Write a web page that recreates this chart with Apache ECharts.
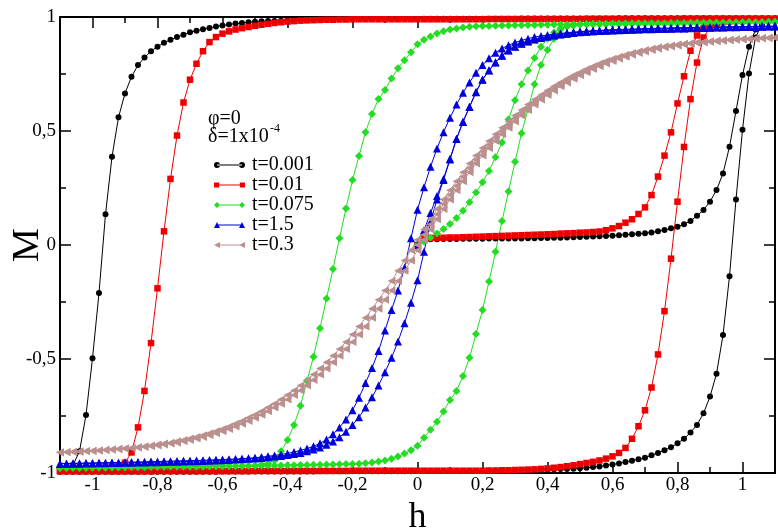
<!DOCTYPE html>
<html>
<head>
<meta charset="utf-8">
<title>Hysteresis loops M(h)</title>
<script src="https://cdn.jsdelivr.net/npm/echarts@6/dist/echarts.min.js"></script>
<style>
  html, body { margin: 0; padding: 0; background: #fff; }
  #chart { width: 778px; height: 528px; }
</style>
</head>
<body>
<div id="chart"></div>
<script>
// Field grid shared by the descending and ascending branches (h from -1.1 to 1.1)
const hGrid = [
  -1.1, -1.08, -1.06, -1.04, -1.02, -1, -0.98, -0.96, -0.94, -0.92,
  -0.9, -0.88, -0.86, -0.84, -0.82, -0.8, -0.78, -0.76, -0.74, -0.72,
  -0.7, -0.68, -0.66, -0.64, -0.62, -0.6, -0.58, -0.56, -0.54, -0.52,
  -0.5, -0.48, -0.46, -0.44, -0.42, -0.4, -0.38, -0.36, -0.34, -0.32,
  -0.3, -0.28, -0.26, -0.24, -0.22, -0.2, -0.18, -0.16, -0.14, -0.12,
  -0.1, -0.08, -0.06, -0.04, -0.02, 0, 0.02, 0.04, 0.06, 0.08,
  0.1, 0.12, 0.14, 0.16, 0.18, 0.2, 0.22, 0.24, 0.26, 0.28,
  0.3, 0.32, 0.34, 0.36, 0.38, 0.4, 0.42, 0.44, 0.46, 0.48,
  0.5, 0.52, 0.54, 0.56, 0.58, 0.6, 0.62, 0.64, 0.66, 0.68,
  0.7, 0.72, 0.74, 0.76, 0.78, 0.8, 0.82, 0.84, 0.86, 0.88,
  0.9, 0.92, 0.94, 0.96, 0.98, 1, 1.02, 1.04, 1.06, 1.08,
  1.1
];
// Initial magnetisation curve runs from h = 0 to h = 1.1
const hVirgin = hGrid.slice(55);

// Axis ticks and labels
const xMajor = [-1, -0.8, -0.6, -0.4, -0.2, 0, 0.2, 0.4, 0.6, 0.8, 1];
const xMinor = [-0.9, -0.7, -0.5, -0.3, -0.1, 0.1, 0.3, 0.5, 0.7, 0.9];
const yMajor = [-1, -0.5, 0, 0.5, 1];
const yMinor = [-0.75, -0.25, 0.25, 0.75];

// ---- t = 0.001 ----
const blackVirgin = [
  0, 0.024, 0.025, 0.025, 0.026, 0.026, 0.026, 0.027, 0.027, 0.027,
  0.027, 0.028, 0.028, 0.028, 0.029, 0.029, 0.029, 0.030, 0.030, 0.031,
  0.031, 0.032, 0.032, 0.033, 0.034, 0.035, 0.036, 0.037, 0.038, 0.039,
  0.041, 0.043, 0.045, 0.047, 0.049, 0.051, 0.055, 0.060, 0.066, 0.073,
  0.080, 0.091, 0.105, 0.128, 0.154, 0.190, 0.241, 0.314, 0.431, 0.588,
  0.746, 0.870, 0.945, 0.975, 0.987, 0.992
];
const blackDown = [
  -0.990, -0.985, -0.965, -0.905, -0.746, -0.497, -0.210, 0.135, 0.387, 0.560,
  0.665, 0.738, 0.789, 0.822, 0.850, 0.870, 0.887, 0.900, 0.912, 0.922,
  0.933, 0.940, 0.946, 0.952, 0.958, 0.963, 0.967, 0.971, 0.974, 0.977,
  0.979, 0.981, 0.982, 0.983, 0.984, 0.985, 0.986, 0.987, 0.987, 0.988,
  0.988, 0.989, 0.989, 0.990, 0.990, 0.990, 0.991, 0.991, 0.991, 0.991,
  0.991, 0.991, 0.991, 0.991, 0.991, 0.991, 0.992, 0.992, 0.992, 0.992,
  0.992, 0.992, 0.992, 0.992, 0.992, 0.992, 0.992, 0.992, 0.992, 0.992,
  0.992, 0.993, 0.993, 0.993, 0.993, 0.993, 0.993, 0.993, 0.993, 0.993,
  0.993, 0.993, 0.993, 0.993, 0.993, 0.993, 0.994, 0.994, 0.994, 0.994,
  0.994, 0.994, 0.994, 0.994, 0.994, 0.994, 0.994, 0.994, 0.994, 0.994,
  0.994, 0.995, 0.995, 0.995, 0.995, 0.995, 0.995, 0.995, 0.995, 0.995,
  0.995
];
const blackUp = [
  -0.995, -0.995, -0.995, -0.995, -0.995, -0.995, -0.995, -0.995, -0.995, -0.995,
  -0.994, -0.994, -0.994, -0.994, -0.994, -0.994, -0.994, -0.994, -0.994, -0.994,
  -0.994, -0.994, -0.994, -0.994, -0.994, -0.993, -0.993, -0.993, -0.993, -0.993,
  -0.993, -0.993, -0.993, -0.993, -0.993, -0.993, -0.993, -0.993, -0.993, -0.993,
  -0.992, -0.992, -0.992, -0.992, -0.992, -0.992, -0.992, -0.992, -0.992, -0.992,
  -0.992, -0.992, -0.992, -0.992, -0.992, -0.991, -0.991, -0.991, -0.991, -0.991,
  -0.991, -0.991, -0.991, -0.991, -0.991, -0.990, -0.990, -0.990, -0.989, -0.989,
  -0.988, -0.988, -0.987, -0.987, -0.986, -0.985, -0.984, -0.983, -0.982, -0.981,
  -0.979, -0.977, -0.974, -0.971, -0.967, -0.963, -0.958, -0.952, -0.946, -0.940,
  -0.933, -0.922, -0.912, -0.900, -0.887, -0.870, -0.850, -0.822, -0.789, -0.738,
  -0.665, -0.565, -0.395, -0.137, 0.200, 0.505, 0.752, 0.910, 0.968, 0.985,
  0.990
];

// ---- t = 0.01 ----
const redVirgin = [
  0, 0.030, 0.031, 0.031, 0.032, 0.033, 0.033, 0.034, 0.035, 0.036,
  0.037, 0.038, 0.039, 0.040, 0.041, 0.042, 0.043, 0.044, 0.045, 0.046,
  0.047, 0.048, 0.050, 0.051, 0.052, 0.054, 0.055, 0.057, 0.059, 0.065,
  0.073, 0.083, 0.098, 0.113, 0.136, 0.165, 0.219, 0.300, 0.392, 0.494,
  0.621, 0.740, 0.852, 0.919, 0.950, 0.965, 0.973, 0.978, 0.982, 0.985,
  0.987, 0.988, 0.989, 0.989, 0.990, 0.990
];
const redDown = [
  -0.990, -0.989, -0.988, -0.988, -0.987, -0.987, -0.985, -0.982, -0.978, -0.970,
  -0.955, -0.910, -0.800, -0.640, -0.430, -0.190, 0.060, 0.290, 0.480, 0.625,
  0.725, 0.795, 0.850, 0.890, 0.912, 0.927, 0.937, 0.945, 0.951, 0.956,
  0.961, 0.966, 0.970, 0.974, 0.977, 0.980, 0.982, 0.984, 0.985, 0.986,
  0.987, 0.988, 0.988, 0.989, 0.989, 0.990, 0.990, 0.990, 0.990, 0.990,
  0.990, 0.990, 0.990, 0.990, 0.990, 0.990, 0.990, 0.990, 0.990, 0.990,
  0.990, 0.990, 0.990, 0.990, 0.990, 0.990, 0.991, 0.991, 0.991, 0.991,
  0.991, 0.991, 0.991, 0.991, 0.991, 0.991, 0.991, 0.991, 0.991, 0.991,
  0.991, 0.992, 0.992, 0.992, 0.992, 0.992, 0.992, 0.992, 0.992, 0.992,
  0.992, 0.992, 0.992, 0.992, 0.992, 0.992, 0.993, 0.993, 0.993, 0.993,
  0.993, 0.993, 0.993, 0.993, 0.993, 0.993, 0.993, 0.993, 0.993, 0.993,
  0.993
];
const redUp = [
  -0.993, -0.993, -0.993, -0.993, -0.993, -0.993, -0.993, -0.993, -0.993, -0.993,
  -0.993, -0.993, -0.993, -0.993, -0.993, -0.992, -0.992, -0.992, -0.992, -0.992,
  -0.992, -0.992, -0.992, -0.992, -0.992, -0.992, -0.992, -0.992, -0.992, -0.992,
  -0.991, -0.991, -0.991, -0.991, -0.991, -0.991, -0.991, -0.991, -0.991, -0.991,
  -0.991, -0.991, -0.991, -0.991, -0.991, -0.990, -0.990, -0.990, -0.990, -0.990,
  -0.990, -0.990, -0.990, -0.990, -0.990, -0.990, -0.990, -0.990, -0.990, -0.990,
  -0.990, -0.990, -0.990, -0.990, -0.990, -0.990, -0.989, -0.989, -0.988, -0.988,
  -0.987, -0.986, -0.985, -0.984, -0.982, -0.980, -0.977, -0.974, -0.970, -0.966,
  -0.961, -0.956, -0.951, -0.945, -0.937, -0.927, -0.912, -0.890, -0.850, -0.795,
  -0.725, -0.625, -0.480, -0.290, -0.060, 0.190, 0.430, 0.640, 0.800, 0.910,
  0.955, 0.970, 0.978, 0.982, 0.985, 0.987, 0.987, 0.988, 0.988, 0.989,
  0.990
];

// ---- t = 0.075 ----
const greenVirgin = [
  0, 0.015, 0.032, 0.050, 0.070, 0.092, 0.118, 0.150, 0.188, 0.230,
  0.275, 0.325, 0.385, 0.450, 0.550, 0.635, 0.705, 0.765, 0.820, 0.870,
  0.905, 0.932, 0.950, 0.959, 0.964, 0.967, 0.968, 0.969, 0.969, 0.969,
  0.970, 0.970, 0.970, 0.971, 0.971, 0.971, 0.972, 0.972, 0.972, 0.973,
  0.973, 0.973, 0.974, 0.974, 0.974, 0.975, 0.975, 0.975, 0.976, 0.976,
  0.976, 0.977, 0.977, 0.977, 0.978, 0.978
];
const greenDown = [
  -0.978, -0.978, -0.977, -0.977, -0.977, -0.976, -0.976, -0.976, -0.975, -0.975,
  -0.975, -0.974, -0.974, -0.974, -0.973, -0.973, -0.973, -0.972, -0.972, -0.972,
  -0.971, -0.971, -0.971, -0.970, -0.970, -0.970, -0.969, -0.969, -0.969, -0.968,
  -0.968, -0.963, -0.958, -0.945, -0.905, -0.855, -0.790, -0.705, -0.595, -0.490,
  -0.365, -0.235, -0.105, 0.030, 0.160, 0.285, 0.390, 0.495, 0.575, 0.640,
  0.680, 0.730, 0.775, 0.810, 0.845, 0.880, 0.900, 0.915, 0.928, 0.938,
  0.945, 0.950, 0.954, 0.957, 0.959, 0.960, 0.961, 0.962, 0.963, 0.963,
  0.964, 0.964, 0.965, 0.965, 0.966, 0.966, 0.967, 0.967, 0.967, 0.968,
  0.968, 0.968, 0.969, 0.969, 0.969, 0.970, 0.970, 0.970, 0.971, 0.971,
  0.971, 0.972, 0.972, 0.972, 0.973, 0.973, 0.973, 0.974, 0.974, 0.974,
  0.975, 0.975, 0.975, 0.976, 0.976, 0.976, 0.977, 0.977, 0.977, 0.978,
  0.978
];
const greenUp = [
  -0.978, -0.978, -0.977, -0.977, -0.977, -0.976, -0.976, -0.976, -0.975, -0.975,
  -0.975, -0.974, -0.974, -0.974, -0.973, -0.973, -0.973, -0.972, -0.972, -0.972,
  -0.971, -0.971, -0.971, -0.970, -0.970, -0.970, -0.969, -0.969, -0.969, -0.968,
  -0.968, -0.968, -0.967, -0.967, -0.967, -0.966, -0.966, -0.965, -0.965, -0.964,
  -0.964, -0.963, -0.963, -0.962, -0.961, -0.960, -0.959, -0.957, -0.954, -0.950,
  -0.945, -0.938, -0.928, -0.915, -0.900, -0.880, -0.845, -0.810, -0.775, -0.730,
  -0.680, -0.640, -0.575, -0.495, -0.390, -0.285, -0.160, -0.030, 0.105, 0.235,
  0.365, 0.490, 0.595, 0.705, 0.790, 0.855, 0.905, 0.945, 0.958, 0.963,
  0.968, 0.968, 0.969, 0.969, 0.969, 0.970, 0.970, 0.970, 0.971, 0.971,
  0.971, 0.972, 0.972, 0.972, 0.973, 0.973, 0.973, 0.974, 0.974, 0.974,
  0.975, 0.975, 0.975, 0.976, 0.976, 0.976, 0.977, 0.977, 0.977, 0.978,
  0.978
];

// ---- t = 1.5 ----
const blueVirgin = [
  0, 0.065, 0.140, 0.215, 0.290, 0.378, 0.466, 0.541, 0.606, 0.671,
  0.726, 0.766, 0.801, 0.831, 0.854, 0.871, 0.884, 0.894, 0.902, 0.909,
  0.915, 0.920, 0.924, 0.928, 0.931, 0.934, 0.936, 0.938, 0.940, 0.941,
  0.942, 0.943, 0.944, 0.945, 0.946, 0.947, 0.947, 0.948, 0.949, 0.950,
  0.951, 0.951, 0.952, 0.953, 0.953, 0.954, 0.955, 0.955, 0.956, 0.956,
  0.957, 0.957, 0.958, 0.958, 0.959, 0.959
];
const blueDown = [
  -0.958, -0.958, -0.957, -0.957, -0.956, -0.956, -0.955, -0.955, -0.954, -0.954,
  -0.953, -0.952, -0.952, -0.951, -0.950, -0.950, -0.949, -0.948, -0.947, -0.946,
  -0.946, -0.945, -0.944, -0.943, -0.942, -0.941, -0.940, -0.939, -0.937, -0.935,
  -0.933, -0.930, -0.927, -0.923, -0.919, -0.914, -0.908, -0.901, -0.893, -0.883,
  -0.870, -0.853, -0.830, -0.800, -0.765, -0.725, -0.670, -0.605, -0.540, -0.465,
  -0.375, -0.285, -0.200, -0.100, 0.030, 0.155, 0.253, 0.343, 0.423, 0.495,
  0.558, 0.616, 0.668, 0.713, 0.755, 0.789, 0.819, 0.843, 0.862, 0.876,
  0.888, 0.897, 0.905, 0.912, 0.917, 0.921, 0.925, 0.928, 0.931, 0.934,
  0.936, 0.938, 0.940, 0.941, 0.943, 0.944, 0.945, 0.946, 0.947, 0.948,
  0.949, 0.950, 0.951, 0.951, 0.952, 0.953, 0.953, 0.954, 0.954, 0.955,
  0.955, 0.956, 0.956, 0.957, 0.957, 0.958, 0.958, 0.959, 0.959, 0.960,
  0.960
];
const blueUp = [
  -0.960, -0.960, -0.959, -0.959, -0.958, -0.958, -0.957, -0.957, -0.956, -0.956,
  -0.955, -0.955, -0.954, -0.954, -0.953, -0.953, -0.952, -0.951, -0.951, -0.950,
  -0.949, -0.948, -0.947, -0.946, -0.945, -0.944, -0.943, -0.941, -0.940, -0.938,
  -0.936, -0.934, -0.931, -0.928, -0.925, -0.921, -0.917, -0.912, -0.905, -0.897,
  -0.888, -0.876, -0.862, -0.843, -0.819, -0.789, -0.755, -0.713, -0.668, -0.616,
  -0.558, -0.495, -0.423, -0.343, -0.253, -0.155, -0.030, 0.100, 0.200, 0.285,
  0.375, 0.465, 0.540, 0.605, 0.670, 0.725, 0.765, 0.800, 0.830, 0.853,
  0.870, 0.883, 0.893, 0.901, 0.908, 0.914, 0.919, 0.923, 0.927, 0.930,
  0.933, 0.935, 0.937, 0.939, 0.940, 0.941, 0.942, 0.943, 0.944, 0.945,
  0.946, 0.946, 0.947, 0.948, 0.949, 0.950, 0.950, 0.951, 0.952, 0.952,
  0.953, 0.954, 0.954, 0.955, 0.955, 0.956, 0.956, 0.957, 0.957, 0.958,
  0.958
];

// ---- t = 0.3 ----
const brownVirgin = [
  0, 0.045, 0.090, 0.135, 0.180, 0.220, 0.260, 0.299, 0.338, 0.375,
  0.409, 0.440, 0.471, 0.500, 0.528, 0.555, 0.580, 0.604, 0.627, 0.648,
  0.668, 0.687, 0.704, 0.721, 0.736, 0.751, 0.765, 0.778, 0.790, 0.801,
  0.812, 0.821, 0.830, 0.838, 0.846, 0.852, 0.858, 0.864, 0.869, 0.873,
  0.877, 0.881, 0.884, 0.887, 0.890, 0.892, 0.895, 0.897, 0.899, 0.901,
  0.903, 0.904, 0.906, 0.907, 0.908, 0.909
];
const brownDown = [
  -0.909, -0.908, -0.907, -0.905, -0.904, -0.902, -0.900, -0.898, -0.896, -0.894,
  -0.891, -0.889, -0.886, -0.883, -0.879, -0.875, -0.871, -0.867, -0.861, -0.855,
  -0.849, -0.842, -0.834, -0.826, -0.817, -0.807, -0.796, -0.784, -0.772, -0.758,
  -0.744, -0.729, -0.713, -0.696, -0.678, -0.658, -0.638, -0.616, -0.592, -0.568,
  -0.542, -0.514, -0.486, -0.456, -0.425, -0.392, -0.357, -0.319, -0.280, -0.240,
  -0.200, -0.158, -0.113, -0.068, -0.023, 0.023, 0.068, 0.113, 0.158, 0.200,
  0.240, 0.280, 0.319, 0.357, 0.392, 0.425, 0.456, 0.486, 0.514, 0.542,
  0.568, 0.592, 0.616, 0.638, 0.658, 0.678, 0.696, 0.713, 0.729, 0.744,
  0.758, 0.772, 0.784, 0.796, 0.807, 0.817, 0.826, 0.834, 0.842, 0.849,
  0.855, 0.861, 0.867, 0.871, 0.875, 0.879, 0.883, 0.886, 0.889, 0.891,
  0.894, 0.896, 0.898, 0.900, 0.902, 0.904, 0.905, 0.907, 0.908, 0.909,
  0.910
];
const brownUp = [
  -0.910, -0.909, -0.908, -0.907, -0.905, -0.904, -0.902, -0.900, -0.898, -0.896,
  -0.894, -0.891, -0.889, -0.886, -0.883, -0.879, -0.875, -0.871, -0.867, -0.861,
  -0.855, -0.849, -0.842, -0.834, -0.826, -0.817, -0.807, -0.796, -0.784, -0.772,
  -0.758, -0.744, -0.729, -0.713, -0.696, -0.678, -0.658, -0.638, -0.616, -0.592,
  -0.568, -0.542, -0.514, -0.486, -0.456, -0.425, -0.392, -0.357, -0.319, -0.280,
  -0.240, -0.200, -0.158, -0.113, -0.068, -0.023, 0.023, 0.068, 0.113, 0.158,
  0.200, 0.240, 0.280, 0.319, 0.357, 0.392, 0.425, 0.456, 0.486, 0.514,
  0.542, 0.568, 0.592, 0.616, 0.638, 0.658, 0.678, 0.696, 0.713, 0.729,
  0.744, 0.758, 0.772, 0.784, 0.796, 0.807, 0.817, 0.826, 0.834, 0.842,
  0.849, 0.855, 0.861, 0.867, 0.871, 0.875, 0.879, 0.883, 0.886, 0.889,
  0.891, 0.894, 0.896, 0.898, 0.900, 0.902, 0.904, 0.905, 0.907, 0.908,
  0.909
];

const FONT = "'Liberation Serif', 'DejaVu Serif', 'Times New Roman', serif";
const fmt = v => String(v).replace('.', ',');

// One polyline per temperature: initial curve, then the field sweep down, then back up
function loop(virgin, down, up) {
  const pts = [];
  virgin.forEach((m, i) => pts.push([hVirgin[i], m]));
  for (let i = hGrid.length - 1; i >= 0; i--) pts.push([hGrid[i], down[i]]);
  hGrid.forEach((h, i) => pts.push([h, up[i]]));
  return pts;
}

const frame = { show: true, onZero: false, lineStyle: { color: '#000', width: 2 } };
const hidden = { show: false, onZero: false };
function makeAxis(range, position, ticks, len, withLabels, margin) {
  return {
    type: 'value', position, min: range[0], max: range[1],
    axisLine: withLabels !== null ? frame : hidden,
    axisTick: { show: true, inside: true, length: len, customValues: ticks,
                lineStyle: { color: '#000', width: 1.5 } },
    axisLabel: withLabels ? {
      show: true, customValues: ticks, formatter: fmt, margin,
      fontFamily: FONT, fontSize: 19, color: '#000'
    } : { show: false },
    splitLine: { show: false }
  };
}

const xAxes = [
  makeAxis([-1.1, 1.1], 'bottom', xMajor, 11, true, 3),
  makeAxis([-1.1, 1.1], 'bottom', xMinor, 6, null),
  makeAxis([-1.1, 1.1], 'top', xMajor, 11, false),
  makeAxis([-1.1, 1.1], 'top', xMinor, 6, null)
];
Object.assign(xAxes[0], {
  name: 'h', nameLocation: 'middle', nameGap: 21,
  nameTextStyle: { fontFamily: FONT, fontSize: 36, color: '#000' }
});

const yAxes = [
  makeAxis([-1, 1], 'left', yMajor, 11, true, 4),
  makeAxis([-1, 1], 'left', yMinor, 6, null),
  makeAxis([-1, 1], 'right', yMajor, 11, false),
  makeAxis([-1, 1], 'right', yMinor, 6, null)
];
Object.assign(yAxes[0], {
  name: 'M', nameLocation: 'middle', nameRotate: 90, nameGap: 13, nameMoveOverlap: false,
  nameTextStyle: { fontFamily: FONT, fontSize: 38, color: '#000' }
});

// Legend icons: short line with a marker at each end
const LINE = 'M3,2.5h25v1h-25Z';
const icons = {
  circle: 'path://M0,3a3,3 0 1,0 6,0a3,3 0 1,0 -6,0ZM25,3a3,3 0 1,0 6,0a3,3 0 1,0 -6,0Z' + LINE,
  square: 'path://M0.5,0.5h5v5h-5ZM25.5,0.5h5v5h-5Z' + LINE,
  diamond: 'path://M3,0L6,3L3,6L0,3ZM28,0L31,3L28,6L25,3Z' + LINE,
  triangle: 'path://M3,0L6,6L0,6ZM28,0L31,6L25,6Z' + LINE,
  left: 'path://M0,3L6,0L6,6ZM25,3L31,0L31,6Z' + LINE
};

function series(name, color, symbol, size, rotate, virgin, down, up) {
  return {
    name, type: 'line', data: loop(virgin, down, up),
    xAxisIndex: 0, yAxisIndex: 0,
    symbol, symbolSize: size, symbolRotate: rotate, showSymbol: true,
    itemStyle: { color, borderWidth: 0 },
    lineStyle: { color, width: 1 },
    emphasis: { disabled: true },
    z: 2
  };
}

// Parameter annotation above the legend
const note = (text, x, y, size) => ({
  type: 'text', x, y, z: 10,
  style: { text, x: 0, y: 0, font: size + 'px ' + FONT, fill: '#000', align: 'left', verticalAlign: 'top' }
});

const chart = echarts.init(document.getElementById('chart'), null, { renderer: 'canvas' });
chart.setOption({
  animation: false,
  backgroundColor: '#fff',
  grid: { left: 60, right: 3, top: 17, bottom: 55, containLabel: false, outerBoundsMode: 'none' },
  xAxis: xAxes,
  yAxis: yAxes,
  legend: {
    orient: 'vertical', left: 214, top: 155, padding: 0,
    itemWidth: 31, itemHeight: 6, itemGap: 0,
    itemStyle: { borderWidth: 0 },
    textStyle: { fontFamily: FONT, fontSize: 20, color: '#000', lineHeight: 19.7, padding: [0, 0, 0, 2] },
    selectedMode: false,
    data: [
      { name: 't=0.001', icon: icons.circle },
      { name: 't=0.01', icon: icons.square },
      { name: 't=0.075', icon: icons.diamond },
      { name: 't=1.5', icon: icons.triangle },
      { name: 't=0.3', icon: icons.left }
    ]
  },
  graphic: [
    note('φ=0', 208, 109, 20),
    note('δ=1x10', 208, 127, 20),
    note('-4', 270, 123, 12)
  ],
  series: [
    series('t=0.001', '#000000', 'circle', 6, 0, blackVirgin, blackDown, blackUp),
    series('t=0.01', '#ee0000', 'rect', 6.5, 0, redVirgin, redDown, redUp),
    series('t=0.075', '#22dd22', 'diamond', 8, 0, greenVirgin, greenDown, greenUp),
    series('t=1.5', '#0000dd', 'triangle', 8, 0, blueVirgin, blueDown, blueUp),
    series('t=0.3', '#bc8f8f', 'triangle', 8, 90, brownVirgin, brownDown, brownUp)
  ]
});
</script>
</body>
</html>
